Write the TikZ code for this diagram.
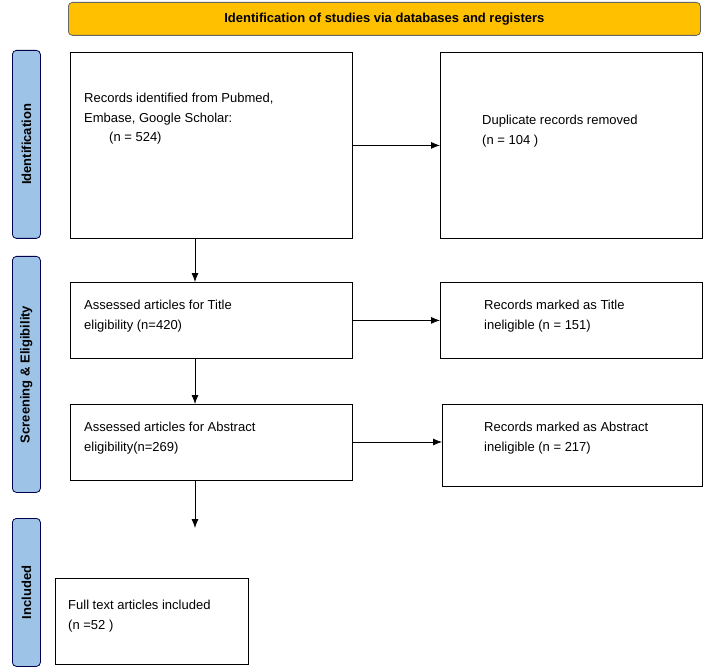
\documentclass[tikz,border=0pt]{standalone}
\usepackage{fontspec}
\setmainfont{Liberation Sans}
\usetikzlibrary{positioning,arrows.meta}
\definecolor{phaseblue}{HTML}{9DC3E6}
\definecolor{topgold}{HTML}{FFC000}
\begin{document}
\begin{tikzpicture}[x=1pt,y=-1pt]

% Definitions
\tikzset{Box/.style = {rectangle, draw=black, thick, anchor=north west, inner sep=0pt},
         Phase/.style = {rectangle, rounded corners=4pt, draw=black!70!blue, thick, fill=phaseblue, anchor=north west, inner sep=0pt},
         Txt/.style = {anchor=north west, align=left, font=\fontsize{13}{19.5}\selectfont, inner sep=0pt},
         arrow/.style = {thick,-{Latex[length=9pt,width=7pt]}}}

\useasboundingbox (0,0) rectangle (725,668);

\node (Top) [Box, draw=black!60, rounded corners=4pt, fill=topgold, minimum width=632pt, minimum height=33pt, font=\bfseries\fontsize{13}{15}\selectfont] at (68,2) {Identification of studies via databases and registers};

\node (PI) [Phase, minimum width=28pt, minimum height=188pt] at (12,50) {};
\node [rotate=90, font=\bfseries\fontsize{13}{15}\selectfont] at (PI.center) {Identification};
\node (PS) [Phase, minimum width=28pt, minimum height=236pt] at (12,256) {};
\node [rotate=90, font=\bfseries\fontsize{13}{15}\selectfont] at (PS.center) {Screening \& Eligibility};
\node (PN) [Phase, minimum width=28pt, minimum height=148pt] at (12,518) {};
\node [rotate=90, font=\bfseries\fontsize{13}{15}\selectfont] at (PN.center) {Included};

\node (Rec) [Box, minimum width=282pt, minimum height=186pt] at (70,52) {};
\node (Dup) [Box, minimum width=262pt, minimum height=186pt] at (440,52) {};
\node (Tit) [Box, minimum width=282pt, minimum height=76pt] at (70,282) {};
\node (TitX) [Box, minimum width=262pt, minimum height=76pt] at (440,282) {};
\node (Abs) [Box, minimum width=282pt, minimum height=76pt] at (70,404) {};
\node (AbsX) [Box, minimum width=260pt, minimum height=82pt] at (442,404) {};
\node (Inc) [Box, minimum width=193pt, minimum height=86pt] at (55,578) {};
\coordinate (IncTop) at (195,528);

\node [Txt] at (84,93) {Records identified from Pubmed,\\Embase, Google Scholar:\\\hspace{25pt}(n = 524)};
\node [Txt] at (482,115) {Duplicate records removed\\(n = 104 )};
\node [Txt] at (84,300) {Assessed articles for Title\\eligibility (n=420)};
\node [Txt] at (484,300) {Records marked as Title\\ineligible (n = 151)};
\node [Txt] at (84,422) {Assessed articles for Abstract\\eligibility(n=269)};
\node [Txt] at (484,422) {Records marked as Abstract\\ineligible (n = 217)};
\node [Txt] at (68,600) {Full text articles included\\(n =52 )};

\draw [arrow] (Rec.east) -- (Dup.west);
\draw [arrow] (Tit.east) -- (TitX.west);
\draw [arrow] (Abs.east |- 0,442) -- (AbsX.west |- 0,442);
\draw [arrow] (Rec.south -| 195,0) -- (Tit.north -| 195,0);
\draw [arrow] (Tit.south -| 195,0) -- (Abs.north -| 195,0);
\draw [arrow] (Abs.south -| 195,0) -- (IncTop);

\end{tikzpicture}
\end{document}
